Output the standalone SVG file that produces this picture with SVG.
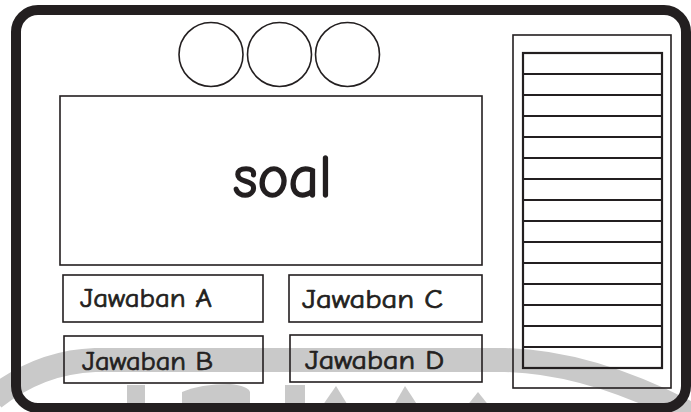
<svg xmlns="http://www.w3.org/2000/svg" width="691" height="412" viewBox="0 0 691 412">
<style>
.ln{fill:none;stroke:#231f20;stroke-width:1.6}
.lt{fill:none;stroke:#231f20;stroke-width:2.2}
.wm{fill:#c9c9c9;stroke:none}
.tx{font-family:"Comic Sans MS","Comic Neue","Open Sans",sans-serif;fill:#231f20;stroke:#231f20;stroke-width:0.7}
.big{stroke-width:1.6}
</style>
<rect width="691" height="412" fill="#ffffff"/>
<g id="watermark">
<path d="M-6,398 Q40,362 95,360 L505,360 Q590,362 690,414" fill="none" stroke="#c9c9c9" stroke-width="24"/>
<rect class="wm" x="127" y="385" width="18" height="27"/>
<path class="wm" d="M182,412 L182,392 Q200,384 230,384 Q248,386 250,392 L250,412 Z"/>
<rect class="wm" x="285" y="385" width="20" height="27"/>
<path class="wm" d="M318,412 L336,386 L352,412 Z"/>
<path class="wm" d="M390,412 L405,386 L422,412 Z"/>
<path class="wm" d="M462,412 L478,392 L494,412 Z"/>
</g>
<g id="frame">
<rect x="16" y="10" width="670" height="398" rx="22" ry="22" fill="none" stroke="#231f20" stroke-width="10"/>
</g>
<g id="indicators">
<circle class="ln" cx="211" cy="54.5" r="32"/>
<circle class="ln" cx="279.5" cy="54.5" r="32"/>
<circle class="ln" cx="347.5" cy="54.5" r="32"/>
</g>
<g id="soal">
<rect class="ln" x="60" y="96" width="422" height="169"/>
<text class="tx big" x="233" y="197" font-size="60" textLength="99" lengthAdjust="spacingAndGlyphs">soal</text>
</g>
<g id="jawaban-a">
<rect class="ln" x="63" y="275" width="200" height="47"/>
<text class="tx" x="80" y="307" font-size="26" textLength="132" lengthAdjust="spacingAndGlyphs">Jawaban A</text>
</g>
<g id="jawaban-b">
<rect class="ln" x="64" y="336" width="199" height="47"/>
<text class="tx" x="82" y="370" font-size="26" textLength="131" lengthAdjust="spacingAndGlyphs">Jawaban B</text>
</g>
<g id="jawaban-c">
<rect class="ln" x="289" y="275" width="193" height="47"/>
<text class="tx" x="302" y="308" font-size="26" textLength="141" lengthAdjust="spacingAndGlyphs">Jawaban C</text>
</g>
<g id="jawaban-d">
<rect class="ln" x="290" y="335" width="192" height="47"/>
<text class="tx" x="305" y="369" font-size="26" textLength="139" lengthAdjust="spacingAndGlyphs">Jawaban D</text>
</g>
<g id="daftar-soal">
<rect class="ln" x="513" y="35" width="158" height="353"/>
<rect class="lt" x="523" y="53" width="139" height="315"/>
<path class="lt" d="M523,74H662M523,95H662M523,116H662M523,137H662M523,158H662M523,179H662M523,200H662M523,221H662M523,242H662M523,263H662M523,284H662M523,305H662M523,326H662M523,347H662"/>
</g>
</svg>
